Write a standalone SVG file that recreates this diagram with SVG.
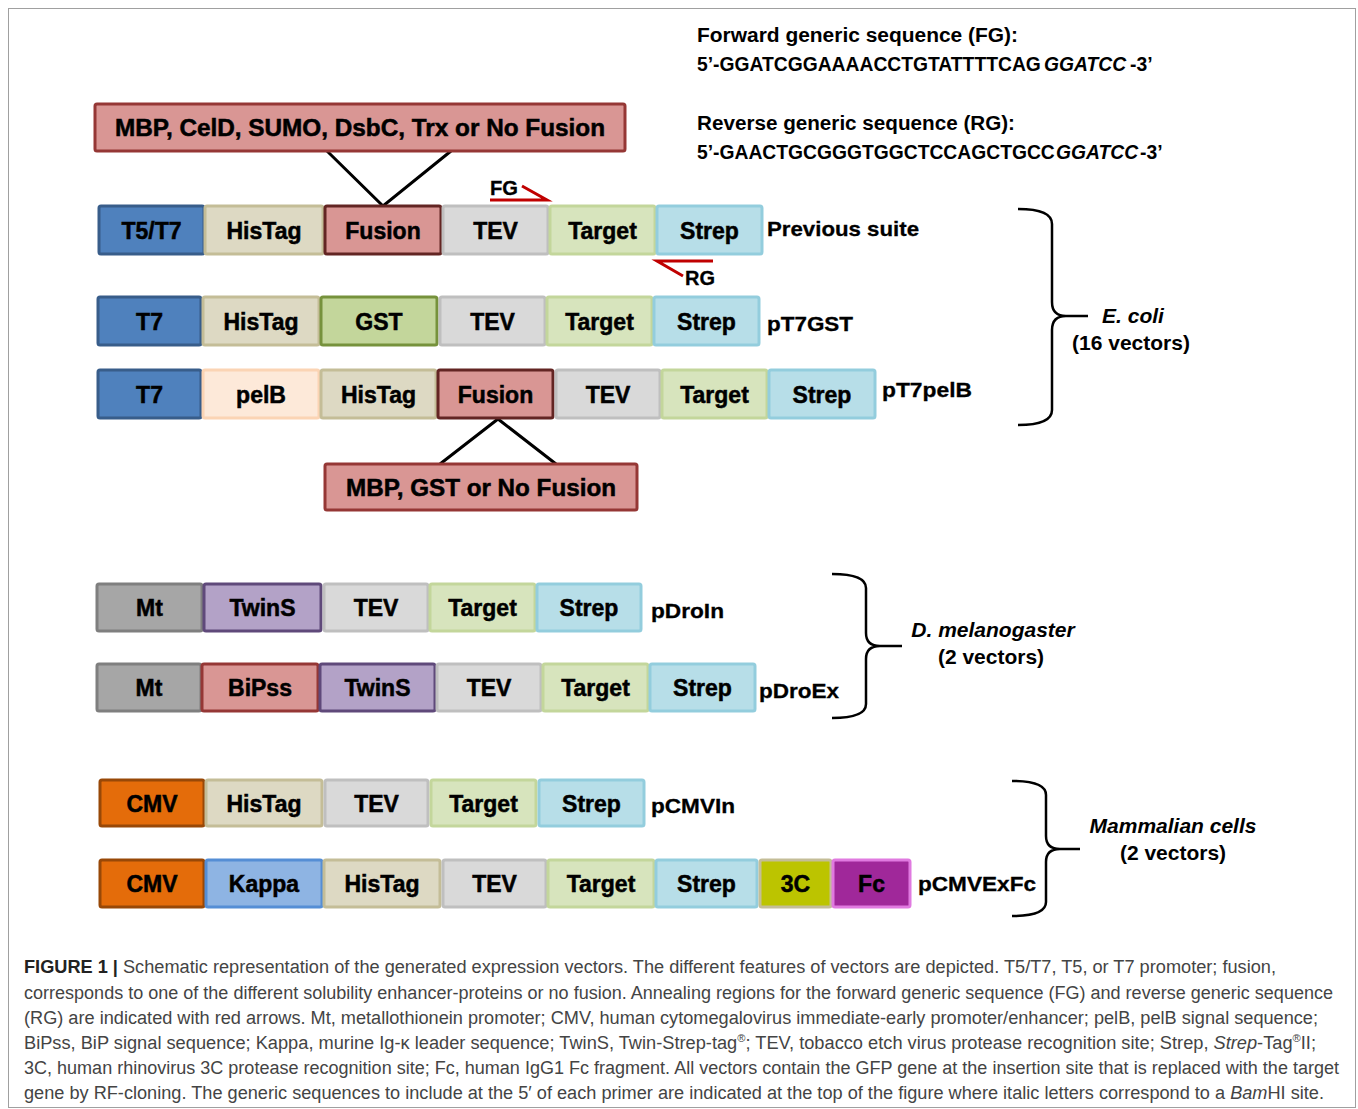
<svg xmlns="http://www.w3.org/2000/svg" width="1358" height="1109" viewBox="0 0 1358 1109">
<style>
.bx{stroke-width:3}
.bt{font-family:"Liberation Sans",Arial,sans-serif;font-weight:bold;font-size:23px;fill:#000;stroke:#000;stroke-width:0.5;text-anchor:middle}
.lb{font-family:"Liberation Sans",Arial,sans-serif;font-weight:bold;font-size:21px;fill:#000;stroke:#000;stroke-width:0.3}
.sq{font-family:"Liberation Sans",Arial,sans-serif;font-weight:bold;font-size:20px;fill:#000}
.sq2{font-family:"Liberation Sans",Arial,sans-serif;font-weight:bold;font-size:19.3px;fill:#000}
.org{font-family:"Liberation Sans",Arial,sans-serif;font-weight:bold;font-size:21px;fill:#000;text-anchor:middle}
.cap{font-family:"Liberation Sans",Arial,sans-serif;font-size:18px;fill:#444}
.brace{fill:none;stroke:#000;stroke-width:2.5}
.conn{fill:none;stroke:#000;stroke-width:3}
.red{fill:none;stroke:#c00000;stroke-width:3}
.prom{fill:#4f81bd;stroke:#385d8a}
.his{fill:#ddd9c3;stroke:#c4bd97}
.fus{fill:#d99694;stroke:#632523}
.tev{fill:#d9d9d9;stroke:#bfbfbf}
.tgt{fill:#d7e4bd;stroke:#c3d69b}
.str{fill:#b7dee8;stroke:#93cddd}
.gst{fill:#c3d69b;stroke:#76923c}
.pel{fill:#fde9d9;stroke:#fbd4b4}
.mt{fill:#a6a6a6;stroke:#7f7f7f}
.twn{fill:#b3a2c7;stroke:#5f497a}
.bip{fill:#d99694;stroke:#953735}
.cmv{fill:#e46c0a;stroke:#984807}
.kap{fill:#8eb4e3;stroke:#558ed5}
.c3{fill:#bcc400;stroke:#c4bd97}
.fc{fill:#a0289a;stroke:#e07ae0}
.fbox{fill:#d99694;stroke:#953735;stroke-width:3}
</style>
<rect x="8.5" y="8.5" width="1347" height="1099" fill="#fff" stroke="#a0a0a0" stroke-width="1"/>

<g id="sequences">
<text class="sq" x="697" y="42" textLength="321" lengthAdjust="spacingAndGlyphs">Forward generic sequence (FG):</text>
<text class="sq2" x="697" y="71">5’-GGATCGGAAAACCTGTATTTTCAG</text>
<text class="sq2" x="1044" y="71" font-style="italic">GGATCC</text>
<text class="sq2" x="1130" y="71">-3’</text>
<text class="sq" x="697" y="130" textLength="318" lengthAdjust="spacingAndGlyphs">Reverse generic sequence (RG):</text>
<text class="sq2" x="697" y="159">5’-GAACTGCGGGTGGCTCCAGCTGCC</text>
<text class="sq2" x="1056" y="159" font-style="italic">GGATCC</text>
<text class="sq2" x="1140" y="159">-3’</text>
</g>

<g id="connectors">
<path class="conn" d="M327,151 L383,206 L451,151"/>
<path class="conn" d="M440,464 L498,419 L556,464"/>
<path class="red" d="M490,200 L547,200 L522,186"/>
<path class="red" d="M713,261 L657,261 L683,276"/>
<path class="brace" d="M1018,209 Q1052,209 1052,224 L1052,302 Q1052,316 1066,316 L1088,316 M1066,316 Q1052,316 1052,330 L1052,410 Q1052,425 1018,425"/>
<path class="brace" d="M832,574 Q866,574 866,588 L866,633 Q866,646 880,646 L902,646 M880,646 Q866,646 866,659 L866,704 Q866,718 832,718"/>
<path class="brace" d="M1012,781 Q1046,781 1046,795 L1046,836 Q1046,849 1060,849 L1080,849 M1060,849 Q1046,849 1046,862 L1046,902 Q1046,916 1012,916"/>
</g>

<g id="fg-label"><text class="lb" x="490" y="195" font-size="18" textLength="28" lengthAdjust="spacingAndGlyphs">FG</text></g>
<g id="rg-label"><text class="lb" x="685" y="285" font-size="18" textLength="30" lengthAdjust="spacingAndGlyphs">RG</text></g>

<g id="fusion-top">
<rect class="fbox" x="95" y="104" width="530" height="47" rx="2"/>
<text class="bt" x="360" y="136" textLength="490" lengthAdjust="spacingAndGlyphs">MBP, CelD, SUMO, DsbC, Trx or No Fusion</text>
</g>

<g id="row1">
<rect class="bx prom" x="99" y="206" width="105" height="48" rx="2"/><text class="bt" x="151.5" y="239">T5/T7</text>
<rect class="bx his" x="205" y="206" width="118" height="48" rx="2"/><text class="bt" x="264" y="239">HisTag</text>
<rect class="bx fus" x="325" y="206" width="116" height="48" rx="2"/><text class="bt" x="383" y="239">Fusion</text>
<rect class="bx tev" x="443" y="206" width="105" height="48" rx="2"/><text class="bt" x="495.5" y="239">TEV</text>
<rect class="bx tgt" x="550" y="206" width="105" height="48" rx="2"/><text class="bt" x="602.5" y="239">Target</text>
<rect class="bx str" x="657" y="206" width="105" height="48" rx="2"/><text class="bt" x="709.5" y="239">Strep</text>
<text class="lb" x="767" y="236" textLength="152" lengthAdjust="spacingAndGlyphs">Previous suite</text>
</g>

<g id="row2">
<rect class="bx prom" x="98" y="297" width="103" height="48" rx="2"/><text class="bt" x="149.5" y="330">T7</text>
<rect class="bx his" x="203" y="297" width="116" height="48" rx="2"/><text class="bt" x="261" y="330">HisTag</text>
<rect class="bx gst" x="321" y="297" width="116" height="48" rx="2"/><text class="bt" x="379" y="330">GST</text>
<rect class="bx tev" x="440" y="297" width="105" height="48" rx="2"/><text class="bt" x="492.5" y="330">TEV</text>
<rect class="bx tgt" x="547" y="297" width="105" height="48" rx="2"/><text class="bt" x="599.5" y="330">Target</text>
<rect class="bx str" x="654" y="297" width="105" height="48" rx="2"/><text class="bt" x="706.5" y="330">Strep</text>
<text class="lb" x="767" y="331" textLength="86" lengthAdjust="spacingAndGlyphs">pT7GST</text>
</g>

<g id="row3">
<rect class="bx prom" x="98" y="370" width="103" height="48" rx="2"/><text class="bt" x="149.5" y="403">T7</text>
<rect class="bx pel" x="203" y="370" width="116" height="48" rx="2"/><text class="bt" x="261" y="403">pelB</text>
<rect class="bx his" x="321" y="370" width="115" height="48" rx="2"/><text class="bt" x="378.5" y="403">HisTag</text>
<rect class="bx fus" x="438" y="370" width="115" height="48" rx="2"/><text class="bt" x="495.5" y="403">Fusion</text>
<rect class="bx tev" x="556" y="370" width="104" height="48" rx="2"/><text class="bt" x="608" y="403">TEV</text>
<rect class="bx tgt" x="662" y="370" width="105" height="48" rx="2"/><text class="bt" x="714.5" y="403">Target</text>
<rect class="bx str" x="769" y="370" width="106" height="48" rx="2"/><text class="bt" x="822" y="403">Strep</text>
<text class="lb" x="882" y="397" textLength="90" lengthAdjust="spacingAndGlyphs">pT7pelB</text>
</g>

<g id="fusion-bottom">
<rect class="fbox" x="325" y="464" width="312" height="46" rx="2"/>
<text class="bt" x="481" y="496" textLength="270" lengthAdjust="spacingAndGlyphs">MBP, GST or No Fusion</text>
</g>

<g id="ecoli-label">
<text class="org" x="1133" y="323" font-style="italic">E. coli</text>
<text class="org" x="1131" y="350">(16 vectors)</text>
</g>

<g id="row4">
<rect class="bx mt" x="97" y="584" width="105" height="47" rx="2"/><text class="bt" x="149.5" y="616">Mt</text>
<rect class="bx twn" x="204" y="584" width="117" height="47" rx="2"/><text class="bt" x="262.5" y="616">TwinS</text>
<rect class="bx tev" x="324" y="584" width="104" height="47" rx="2"/><text class="bt" x="376" y="616">TEV</text>
<rect class="bx tgt" x="430" y="584" width="105" height="47" rx="2"/><text class="bt" x="482.5" y="616">Target</text>
<rect class="bx str" x="537" y="584" width="104" height="47" rx="2"/><text class="bt" x="589" y="616">Strep</text>
<text class="lb" x="651" y="618" textLength="73" lengthAdjust="spacingAndGlyphs">pDroIn</text>
</g>

<g id="row5">
<rect class="bx mt" x="97" y="664" width="104" height="47" rx="2"/><text class="bt" x="149" y="696">Mt</text>
<rect class="bx bip" x="202" y="664" width="116" height="47" rx="2"/><text class="bt" x="260" y="696">BiPss</text>
<rect class="bx twn" x="320" y="664" width="115" height="47" rx="2"/><text class="bt" x="377.5" y="696">TwinS</text>
<rect class="bx tev" x="437" y="664" width="104" height="47" rx="2"/><text class="bt" x="489" y="696">TEV</text>
<rect class="bx tgt" x="543" y="664" width="105" height="47" rx="2"/><text class="bt" x="595.5" y="696">Target</text>
<rect class="bx str" x="650" y="664" width="105" height="47" rx="2"/><text class="bt" x="702.5" y="696">Strep</text>
<text class="lb" x="759" y="698" textLength="80" lengthAdjust="spacingAndGlyphs">pDroEx</text>
</g>

<g id="dmel-label">
<text class="org" x="993" y="637" font-style="italic">D. melanogaster</text>
<text class="org" x="991" y="664">(2 vectors)</text>
</g>

<g id="row6">
<rect class="bx cmv" x="100" y="780" width="104" height="46" rx="2"/><text class="bt" x="152" y="812">CMV</text>
<rect class="bx his" x="206" y="780" width="116" height="46" rx="2"/><text class="bt" x="264" y="812">HisTag</text>
<rect class="bx tev" x="325" y="780" width="103" height="46" rx="2"/><text class="bt" x="376.5" y="812">TEV</text>
<rect class="bx tgt" x="431" y="780" width="105" height="46" rx="2"/><text class="bt" x="483.5" y="812">Target</text>
<rect class="bx str" x="539" y="780" width="105" height="46" rx="2"/><text class="bt" x="591.5" y="812">Strep</text>
<text class="lb" x="651" y="813" textLength="84" lengthAdjust="spacingAndGlyphs">pCMVIn</text>
</g>

<g id="row7">
<rect class="bx cmv" x="100" y="860" width="104" height="47" rx="2"/><text class="bt" x="152" y="892">CMV</text>
<rect class="bx kap" x="206" y="860" width="116" height="47" rx="2"/><text class="bt" x="264" y="892">Kappa</text>
<rect class="bx his" x="324" y="860" width="116" height="47" rx="2"/><text class="bt" x="382" y="892">HisTag</text>
<rect class="bx tev" x="443" y="860" width="103" height="47" rx="2"/><text class="bt" x="494.5" y="892">TEV</text>
<rect class="bx tgt" x="548" y="860" width="106" height="47" rx="2"/><text class="bt" x="601" y="892">Target</text>
<rect class="bx str" x="656" y="860" width="101" height="47" rx="2"/><text class="bt" x="706.5" y="892">Strep</text>
<rect class="bx c3" x="760" y="860" width="71" height="47" rx="2"/><text class="bt" x="795.5" y="892">3C</text>
<rect class="bx fc" x="833" y="860" width="77" height="47" rx="2"/><text class="bt" x="871.5" y="892">Fc</text>
<text class="lb" x="918" y="891" textLength="118" lengthAdjust="spacingAndGlyphs">pCMVExFc</text>
</g>

<g id="mamm-label">
<text class="org" x="1173" y="833" font-style="italic">Mammalian cells</text>
<text class="org" x="1173" y="860">(2 vectors)</text>
</g>

<g id="caption">
<text class="cap" x="24" y="973" textLength="1252" lengthAdjust="spacingAndGlyphs"><tspan font-weight="bold" fill="#222">FIGURE 1 |</tspan> Schematic representation of the generated expression vectors. The different features of vectors are depicted. T5/T7, T5, or T7 promoter; fusion,</text>
<text class="cap" x="24" y="999" textLength="1309" lengthAdjust="spacingAndGlyphs">corresponds to one of the different solubility enhancer-proteins or no fusion. Annealing regions for the forward generic sequence (FG) and reverse generic sequence</text>
<text class="cap" x="24" y="1024" textLength="1294" lengthAdjust="spacingAndGlyphs">(RG) are indicated with red arrows. Mt, metallothionein promoter; CMV, human cytomegalovirus immediate-early promoter/enhancer; pelB, pelB signal sequence;</text>
<text class="cap" x="24" y="1049" textLength="1292" lengthAdjust="spacingAndGlyphs">BiPss, BiP signal sequence; Kappa, murine Ig-κ leader sequence; TwinS, Twin-Strep-tag<tspan font-size="11" dy="-7">®</tspan><tspan dy="7">; TEV, tobacco etch virus protease recognition site; Strep, </tspan><tspan font-style="italic">Strep</tspan>-Tag<tspan font-size="11" dy="-7">®</tspan><tspan dy="7">II;</tspan></text>
<text class="cap" x="24" y="1074" textLength="1315" lengthAdjust="spacingAndGlyphs">3C, human rhinovirus 3C protease recognition site; Fc, human IgG1 Fc fragment. All vectors contain the GFP gene at the insertion site that is replaced with the target</text>
<text class="cap" x="24" y="1099" textLength="1300" lengthAdjust="spacingAndGlyphs">gene by RF-cloning. The generic sequences to include at the 5′ of each primer are indicated at the top of the figure where italic letters correspond to a <tspan font-style="italic">Bam</tspan>HI site.</text>
</g>
</svg>
